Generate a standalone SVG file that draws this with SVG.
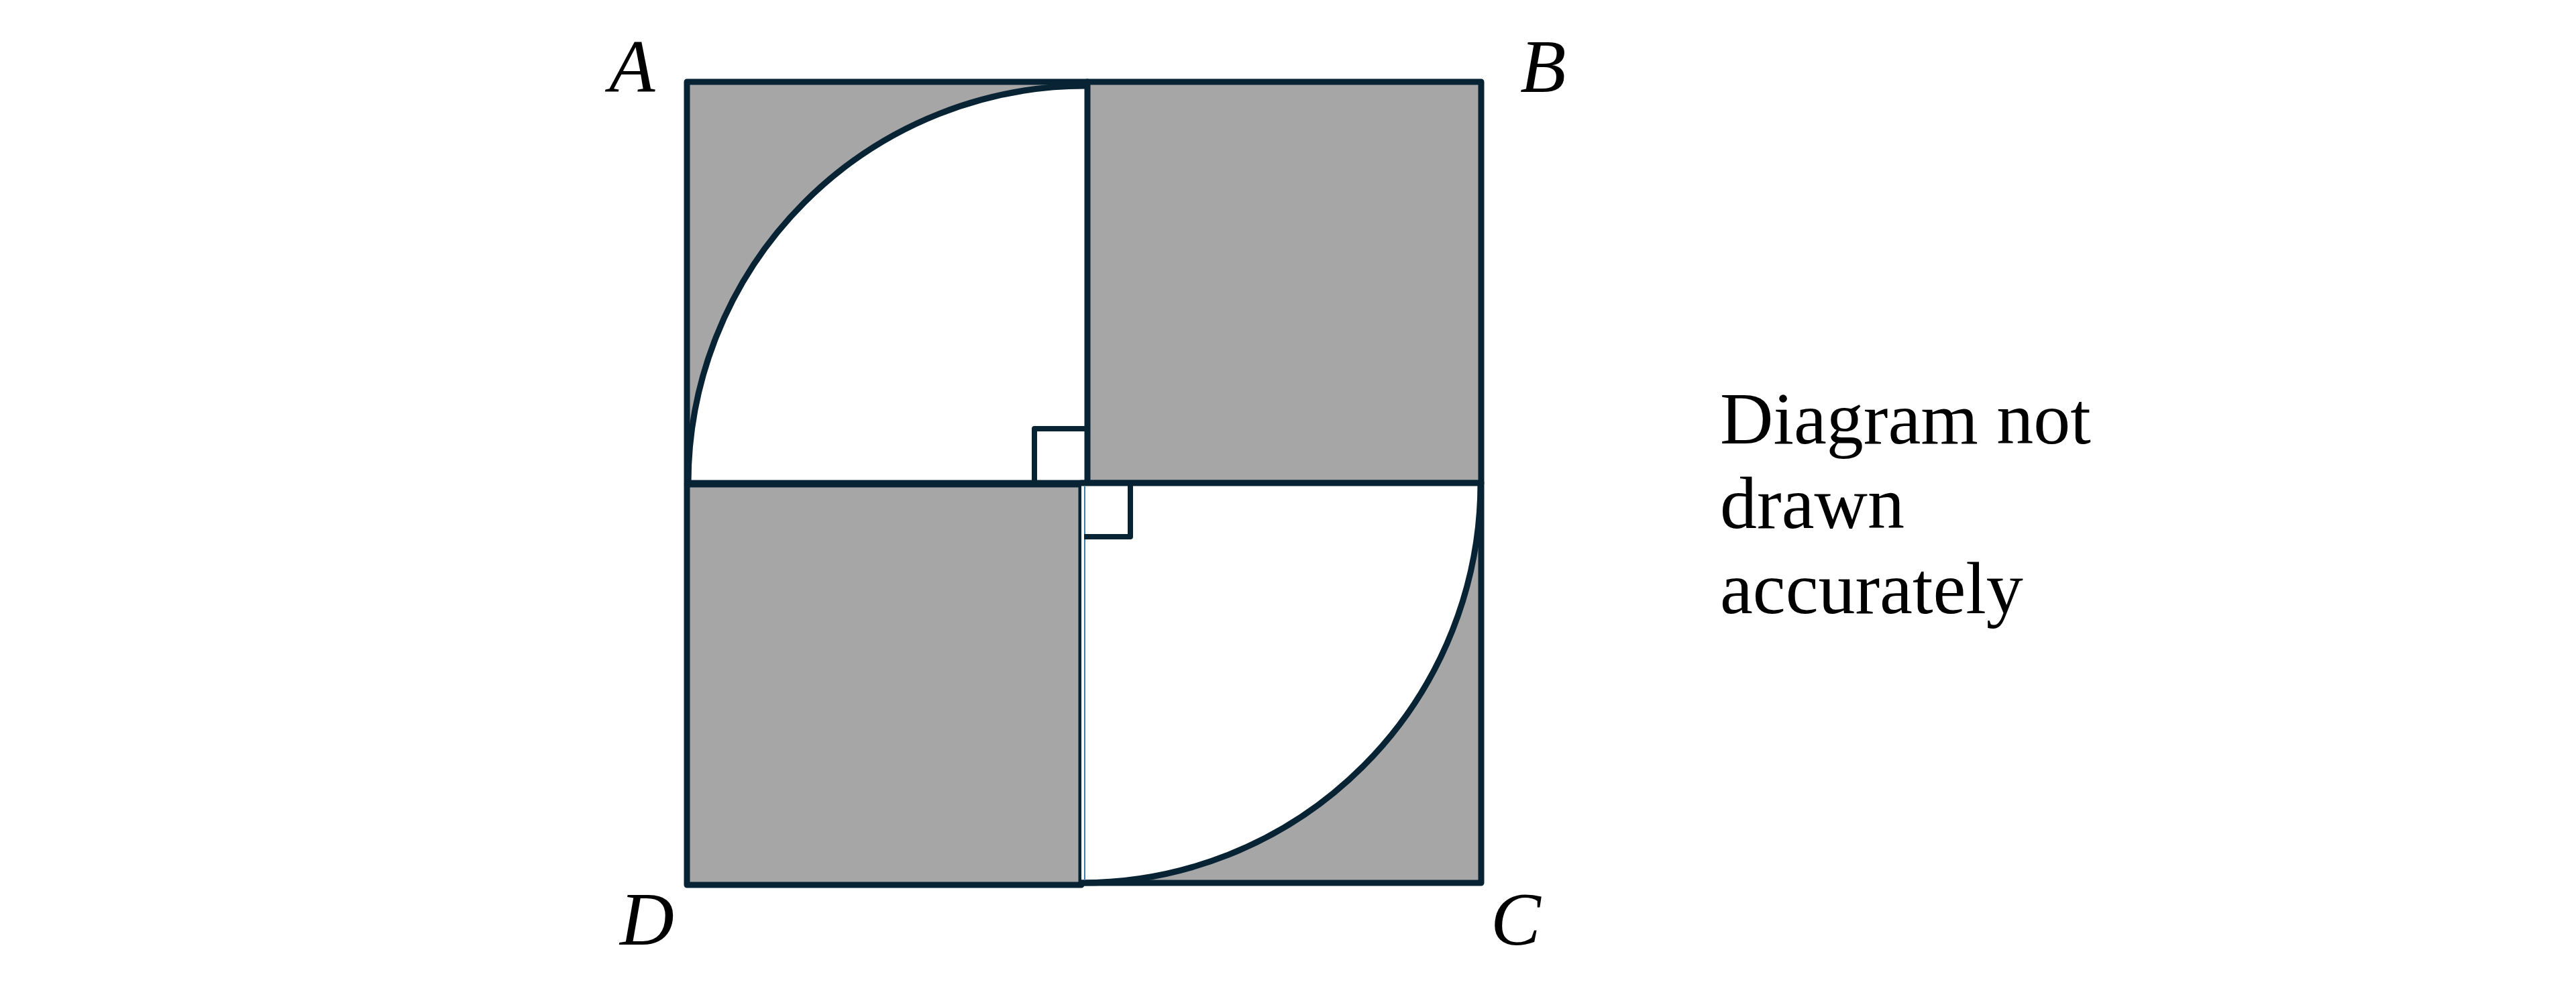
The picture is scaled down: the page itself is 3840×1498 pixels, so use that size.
<svg xmlns="http://www.w3.org/2000/svg" width="3840" height="1498" viewBox="0 0 3840 1498">
<style>
.ln{fill:none;stroke:#072334;stroke-width:9;stroke-linejoin:round;stroke-linecap:round}
.sq{fill:none;stroke:#072334;stroke-width:8;stroke-linejoin:round}
.gr{fill:#a6a6a6}
.wh{fill:#ffffff}
.lbl{font-family:"Liberation Serif","DejaVu Serif",serif;font-style:italic;font-size:112px;fill:#000}
.note{font-family:"Liberation Serif","DejaVu Serif",serif;font-size:110px;fill:#000}
</style>
<rect width="3840" height="1498" fill="#ffffff"/>
<g id="quadrant-top-left">
<rect class="gr" x="1024" y="122" width="597" height="598"/>
<path class="wh" d="M1618,720 L1618,128 A592,592 0 0 0 1026,720 Z"/>
<path class="ln" d="M1621,122 H1024 V720 H1621"/>
<path class="ln" d="M1618,128 A592,592 0 0 0 1026,720"/>
</g>
<g id="square-top-right">
<rect class="gr" x="1621" y="122" width="587" height="598"/>
<rect class="ln" x="1621" y="122" width="587" height="598"/>
</g>
<g id="square-bottom-left">
<rect class="gr" x="1024" y="722" width="588" height="597"/>
<rect class="ln" x="1024" y="722" width="588" height="597"/>
</g>
<g id="quadrant-bottom-right">
<rect class="gr" x="1612" y="720" width="596" height="596"/>
<path class="wh" d="M1612,720 L1612,1316 A595,596 0 0 0 2207,720 Z"/>
<path class="ln" d="M1612,720 H2208 V1316 H1612"/>
<path class="ln" d="M1612,1316 A595,596 0 0 0 2207,720"/>
<line x1="1617" y1="725" x2="1617" y2="1312" stroke="#3a7cab" stroke-width="2"/>
</g>
<g id="right-angles">
<path class="sq" d="M1542,720 V639 H1617"/>
<path class="sq" d="M1616,800 H1685 V722"/>
</g>
<g id="labels">
<text class="lbl" x="908" y="137">A</text>
<text class="lbl" x="2266" y="137">B</text>
<text class="lbl" x="2222" y="1408">C</text>
<text class="lbl" x="924" y="1408">D</text>
</g>
<g id="note">
<text class="note" x="2564" y="661">Diagram not</text>
<text class="note" x="2564" y="787">drawn</text>
<text class="note" x="2564" y="914">accurately</text>
</g>
</svg>
